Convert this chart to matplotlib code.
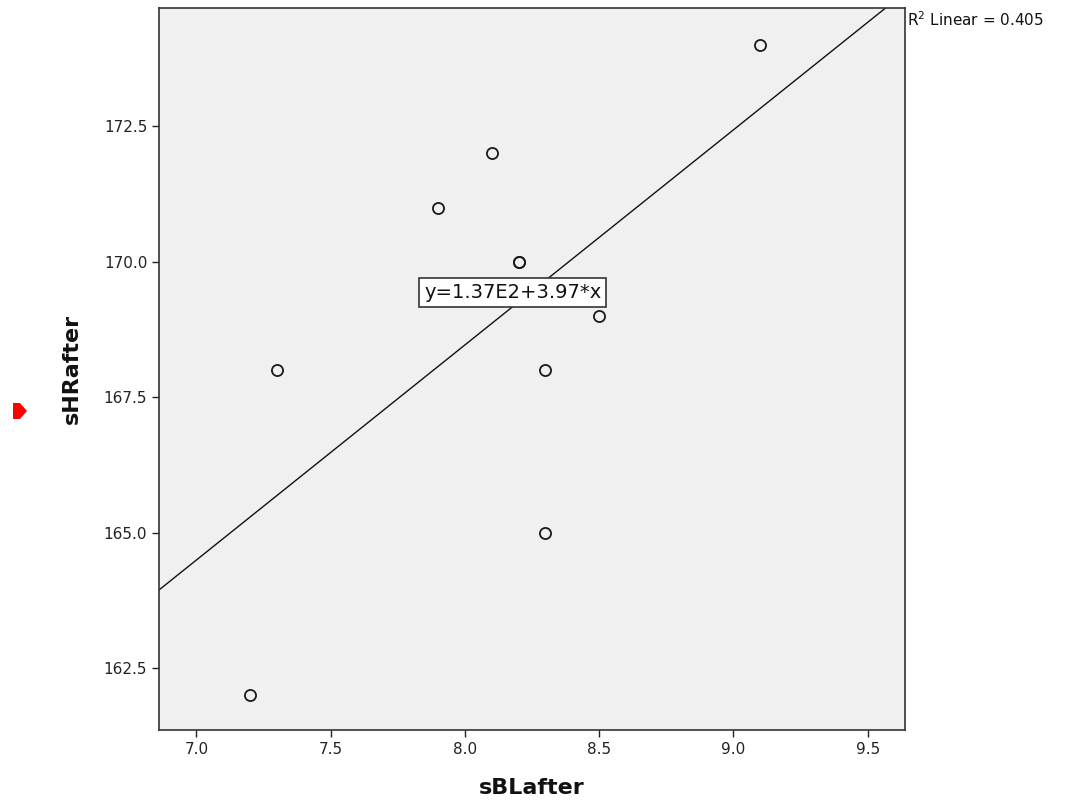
import matplotlib
matplotlib.use('Agg')
import matplotlib.pyplot as plt
from matplotlib.patches import Polygon
import numpy as np

# sBLafter vs sHRafter (one point at 8.2 / 170 appears twice)
sBLafter = [7.2, 7.3, 7.9, 8.1, 8.2, 8.2, 8.3, 8.3, 8.5, 9.1]
sHRafter = [162, 168, 171, 172, 170, 170, 168, 165, 169, 174]
x_ticks = [7.0, 7.5, 8.0, 8.5, 9.0, 9.5]
y_ticks = [162.5, 165.0, 167.5, 170.0, 172.5]

x = np.array(sBLafter)
y = np.array(sHRafter)
slope, intercept = np.polyfit(x, y, 1)
r2 = np.corrcoef(x, y)[0, 1] ** 2

fig = plt.figure(figsize=(10.7, 8.05), dpi=100)
ax = fig.add_axes([0.1486, 0.0932, 0.6972, 0.8968])
ax.set_facecolor('#f0f0f0')

xlim = (6.861, 9.639)
ylim = (161.36, 174.68)
ax.set_xlim(*xlim)
ax.set_ylim(*ylim)

ax.plot(x, y, 'o', ms=8, mfc='none', mec='#1a1a1a', mew=1.3, zorder=3)

# linear fit across the full x range
xs = np.array(xlim)
ax.plot(xs, intercept + slope * xs, color='#111111', lw=1.0, zorder=2)

# equation label
exp = int(np.floor(np.log10(abs(intercept))))
eq = f"y={intercept / 10**exp:.2f}E{exp}+{slope:.2f}*x"
ax.text(8.179, 169.43, eq, fontsize=14, ha='center', va='center', color='#111111',
        bbox=dict(boxstyle='square,pad=0.25', fc='white', ec='#333333', lw=1.2), zorder=4)

ax.text(1.003, 0.997, f"R$^2$ Linear = {r2:.3f}", transform=ax.transAxes,
        ha='left', va='top', fontsize=11, color='#111111')

ax.set_xticks(x_ticks)
ax.set_yticks(y_ticks)
ax.set_xticklabels([f"{v:.1f}" for v in x_ticks])
ax.set_yticklabels([f"{v:.1f}" for v in y_ticks])
ax.tick_params(axis='both', direction='out', length=5, width=1, labelsize=11,
               colors='#222222')

for s in ax.spines.values():
    s.set_color('#333333')
    s.set_linewidth(1.2)

lab_font = dict(family=['Liberation Sans Narrow', 'DejaVu Sans Condensed', 'DejaVu Sans'],
                weight='bold', size=16, color='#111111')
ax.set_xlabel('sBLafter', labelpad=15, **lab_font)
ax.set_ylabel('sHRafter', labelpad=16, **lab_font)

# small red marker arrow at the left margin
arrow = Polygon(np.array([[13, 805 - 403], [20, 805 - 403], [27, 805 - 411],
                          [20, 805 - 419], [13, 805 - 419]]),
                closed=True, fc='#ff0000', ec='none', transform=None)
fig.patches.append(arrow)

fig.savefig('out.png', dpi=100)
